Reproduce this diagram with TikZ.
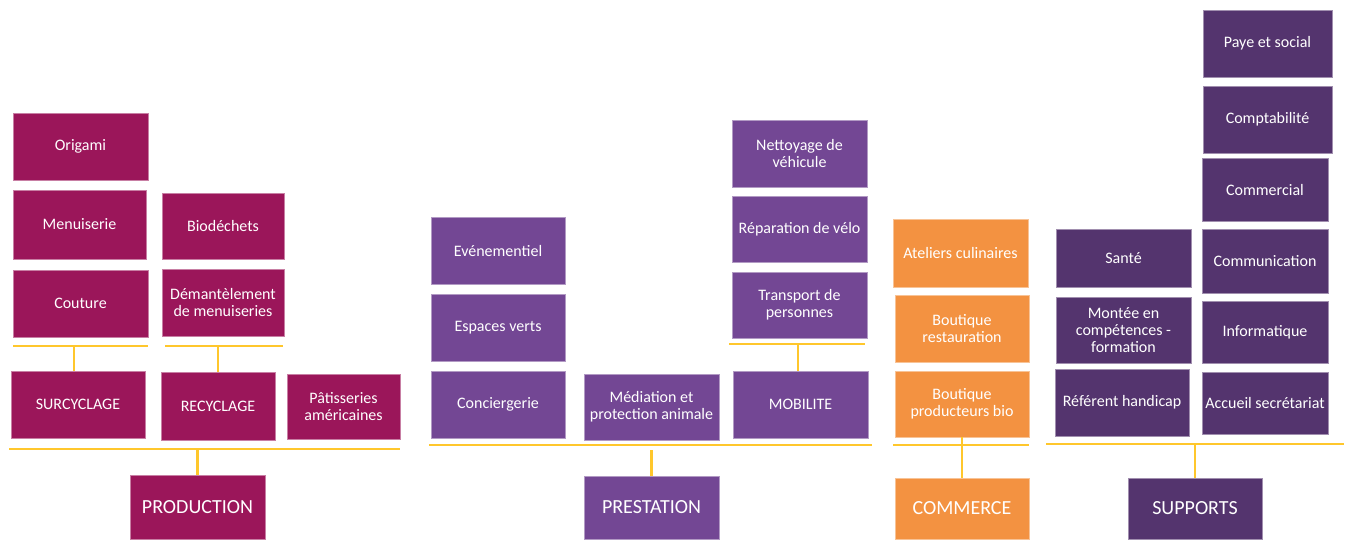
\documentclass[tikz,border=0pt]{standalone}
\usepackage{fontspec}
\setmainfont{Carlito}
\definecolor{prodcol}{RGB}{155,22,90}
\definecolor{prestcol}{RGB}{115,71,148}
\definecolor{commcol}{RGB}{243,146,65}
\definecolor{suppcol}{RGB}{84,52,110}
\definecolor{barcol}{RGB}{255,199,44}
\tikzset{
  cell/.style={fill=#1, draw=#1!55!white, line width=0.4pt, text=white, align=center,
    inner sep=0pt, font=\fontsize{12}{12.5}\selectfont},
  wh/.style 2 args={minimum width=#1*0.75pt, minimum height=#2*0.75pt},
  head/.style={cell=#1, font=\fontsize{15}{16}\selectfont},
  bar/.style={draw=barcol, line width=1.8pt}
}
\begin{document}
\begin{tikzpicture}[x=0.75pt,y=-0.75pt]
  \useasboundingbox (0,0) rectangle (1351,539);
  % production
  \node[cell=prodcol, wh={135}{67}] (origami) at (80.5,146.5) {Origami};
  \node[cell=prodcol, wh={133}{69}] (menuis) at (79.5,224.5) {Menuiserie};
  \node[cell=prodcol, wh={135}{67}] (couture) at (80.5,303.5) {Couture};
  \node[cell=prodcol, wh={122}{66}] (biodech) at (223,226) {Biodéchets};
  \node[cell=prodcol, wh={122}{67}] (demant) at (223,302.5) {Démantèlement\\de menuiseries};
  \node[cell=prodcol, wh={134}{67}] (surcy) at (78,404.5) {SURCYCLAGE};
  \node[cell=prodcol, wh={114}{68}] (recy) at (218,406) {RECYCLAGE};
  \node[cell=prodcol, wh={113}{65}] (patis) at (343.5,406.5) {Pâtisseries\\américaines};
  \node[head=prodcol, wh={135}{64}] (prod) at (197.5,507) {PRODUCTION};
  \coordinate (surl) at (13,346);
  \coordinate (surr) at (148,346);
  \coordinate (recl) at (165,346);
  \coordinate (recr) at (283,346);
  \coordinate (prodl) at (9,449);
  \coordinate (prodr) at (400,449);
  \draw[bar] (surl) -- (surr);
  \draw[bar] (recl) -- (recr);
  \draw[bar] (prodl) -- (prodr);
  \draw[bar] (74,346) coordinate (surm) -- (surm |- surcy.north);
  \draw[bar] (recy.north) -- (recy.north |- recl);
  \draw[bar] (prod.north) -- (prod.north |- prodl);
  % prestation
  \node[cell=prestcol, wh={134}{67}] (evene) at (498,250.5) {Evénementiel};
  \node[cell=prestcol, wh={134}{67}] (espver) at (498,327.5) {Espaces verts};
  \node[cell=prestcol, wh={134}{67}] (concier) at (498,404.5) {Conciergerie};
  \node[cell=prestcol, wh={135}{66}] (mediat) at (651.5,407) {Médiation et\\protection animale};
  \node[cell=prestcol, wh={135}{67}] (nettoy) at (799.5,153.5) {Nettoyage de\\véhicule};
  \node[cell=prestcol, wh={135}{66}] (repar) at (799.5,229) {Réparation de vélo};
  \node[cell=prestcol, wh={135}{66}] (transp) at (799.5,305) {Transport de\\personnes};
  \node[cell=prestcol, wh={135}{67}] (mobil) at (800.5,404.5) {MOBILITE};
  \node[head=prestcol, wh={135}{63}] (prest) at (651.5,507.5) {PRESTATION};
  \coordinate (mobl) at (729,344);
  \coordinate (mobr) at (865,344);
  \coordinate (prestl) at (429,445);
  \coordinate (prestr) at (872,445);
  \draw[bar] (mobl) -- (mobr);
  \draw[bar] (prestl) -- (prestr);
  \draw[bar] (798,344) coordinate (mobm) -- (mobm |- mobil.north);
  \draw[bar] (prest.north) -- ([yshift=-3.5pt]prest.north |- prestl);
  % commerce
  \node[cell=commcol, wh={135}{68}] (atelier) at (960.5,253) {Ateliers culinaires};
  \node[cell=commcol, wh={134}{67}] (boutrest) at (962,328.5) {Boutique\\restauration};
  \node[cell=commcol, wh={134}{66}] (boutbio) at (962,404) {Boutique\\producteurs bio};
  \node[head=commcol, wh={134}{61}] (comm) at (962,508.5) {COMMERCE};
  \coordinate (comml) at (893,445);
  \coordinate (commr) at (1029,445);
  \draw[bar] (comml) -- (commr);
  \draw[bar] (boutbio.south) -- (comm.north);
  % supports
  \node[cell=suppcol, wh={129}{67}] (paye) at (1267.5,43.5) {Paye et social};
  \node[cell=suppcol, wh={129}{67}] (compta) at (1267.5,119.5) {Comptabilité};
  \node[cell=suppcol, wh={126}{63}] (commerc) at (1265,189.5) {Commercial};
  \node[cell=suppcol, wh={126}{64}] (communic) at (1265,261) {Communication};
  \node[cell=suppcol, wh={126}{62}] (informa) at (1265,332) {Informatique};
  \node[cell=suppcol, wh={126}{62}] (accueil) at (1265,403) {Accueil secrétariat};
  \node[cell=suppcol, wh={135}{58}] (sante) at (1123.5,258) {Santé};
  \node[cell=suppcol, wh={135}{66}] (montee) at (1123.5,330) {Montée en\\compétences -\\formation};
  \node[cell=suppcol, wh={134}{67}] (referent) at (1122,402.5) {Référent handicap};
  \node[head=suppcol, wh={134}{61}] (supp) at (1195,508.5) {SUPPORTS};
  \coordinate (suppl) at (1046,444);
  \coordinate (suppr) at (1344,444);
  \draw[bar] (suppl) -- (suppr);
  \draw[bar] (supp.north) -- (supp.north |- suppl);
\end{tikzpicture}
\end{document}
